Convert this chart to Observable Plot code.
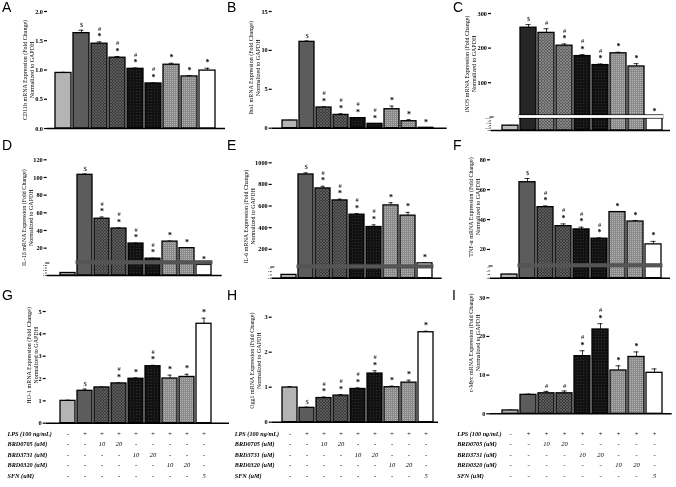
<!DOCTYPE html>
<html><head><meta charset="utf-8">
<script src="https://cdn.jsdelivr.net/npm/d3@7"></script>
<script src="https://cdn.jsdelivr.net/npm/@observablehq/plot@0.6"></script>
<style>
body{margin:0;background:#fff;}
#fig{position:relative;width:676px;height:487px;overflow:hidden;background:#fff;}
.pl{position:absolute;will-change:transform;}
.letter{position:absolute;font-family:"Liberation Sans",Arial,sans-serif;font-size:14px;line-height:14px;color:#000;}
</style></head><body>
<svg width="0" height="0" style="position:absolute">
<defs>
<pattern id="hatch" width="3" height="3" patternUnits="userSpaceOnUse"><rect width="3" height="3" fill="#3a3a3a"/><path d="M0,0L3,3M3,0L0,3" stroke="#707070" stroke-width="0.6"/></pattern>
<pattern id="hatchL" width="3" height="3" patternUnits="userSpaceOnUse"><rect width="3" height="3" fill="#5e5e5e"/><path d="M0,0L3,3M3,0L0,3" stroke="#9a9a9a" stroke-width="0.6"/></pattern>
<pattern id="dark" width="3" height="3" patternUnits="userSpaceOnUse"><rect width="3" height="3" fill="#121212"/><rect x="1" y="1" width="1" height="1" fill="#2e2e2e"/></pattern>
<pattern id="dots" width="2" height="2" patternUnits="userSpaceOnUse"><rect width="2" height="2" fill="#8a8a8a"/><rect width="1" height="1" fill="#b4b4b4"/></pattern>
</defs></svg>
<div id="fig"></div>
<script>
// ---------- categories ----------
const groups = ["Control","LPS","BRD0705-10","BRD0705-20","BRD3731-10","BRD3731-20","BRD0320-10","BRD0320-20","SFN-5"];
const fills = ["#b4b4b4","#5c5c5c","url(#hatch)","url(#hatch)","url(#dark)","url(#dark)","url(#dots)","url(#dots)","#ffffff"];
const fillsC = ["#bdbdbd","#262626","url(#hatchL)","url(#hatchL)","url(#dark)","url(#dark)","url(#dots)","url(#dots)","#ffffff"];

// ---------- A: CD11b ----------
const cd11bValues = [0.95,1.63,1.45,1.21,1.02,0.77,1.09,0.89,0.99];
const cd11bErrors = [0.01,0.05,0.03,0.02,0.015,0.01,0.025,0.015,0.04];
const cd11bSig = ["","$","*#","*#","*#","*#","*","*","*"];
const cd11bTicks = [0,0.5,1,1.5,2];
// ---------- B: Iba1 ----------
const iba1Values = [0.99,11.1,2.66,1.71,1.29,0.56,2.44,0.9,0.05];
const iba1Errors = [0.02,0.12,0.1,0.15,0.05,0.03,0.4,0.2,0.02];
const iba1Sig = ["","$","*#","*#","*#","*#","*","*","*"];
const iba1Ticks = [0,5,10,15];
// ---------- C: iNOS ----------
const inosValues = [1.0,259,244,207,177,151,185,147,4];
const inosErrors = [0.05,9,12,5,4,3,3,8,0];
const inosSig = ["","$","#","*#","*#","*#","*","*","*"];
const inosTicks = [100,200,300];
const inosLowTicks = [0,0.5,1,1.5,2,2.5];
// ---------- D: IL-1β ----------
const il1bValues = [1.0,103,53.3,42.2,25.2,8.1,27.4,20,4.2];
const il1bErrors = [0.05,1,2,0.8,0.5,0.5,0.7,0.7,0.1];
const il1bSig = ["","$","*#","*#","*#","*#","*","*","*"];
const il1bTicks = [20,40,60,80,100,120];
const il1bLowTicks = [0,1,2,3,4];
// ---------- E: IL-6 ----------
const il6Values = [1.0,892,763,652,520,406,606,511,70];
const il6Errors = [0.05,15,20,12,10,20,25,30,5];
const il6Sig = ["","$","*#","*#","*#","*#","*","*","*"];
const il6Ticks = [200,400,600,800,1000];
const il6LowTicks = [0,1,2,3];
// ---------- F: TNF-α ----------
const tnfValues = [1.0,65,48.3,35.6,33.4,27.2,45,38.7,23.4];
const tnfErrors = [0.05,2.5,0.8,1.5,1.5,0.5,0.3,0.7,2];
const tnfSig = ["","$","*#","*#","*#","*#","*","*","*"];
const tnfTicks = [20,40,60,80];
const tnfLowTicks = [0,1,2,3];
// ---------- G: HO-1 ----------
const ho1Values = [1.0,1.45,1.6,1.78,1.99,2.55,2.0,2.07,4.45];
const ho1Errors = [0.03,0.08,0.02,0.03,0.04,0.04,0.15,0.12,0.25];
const ho1Sig = ["","$","","*#","*","*#","*","*","*"];
const ho1Ticks = [0,1,2,3,4,5];
// ---------- H: Ogg1 ----------
const ogg1Values = [0.99,0.41,0.69,0.76,0.95,1.39,1.0,1.13,2.57];
const ogg1Errors = [0.03,0.02,0.03,0.03,0.03,0.08,0.03,0.07,0.03];
const ogg1Sig = ["","$","*#","*#","*#","*#","*","*","*"];
const ogg1Ticks = [0,1,2,3];
// ---------- I: c-Myc ----------
const cmycValues = [0.86,4.9,5.3,5.3,14.9,21.8,11.2,14.7,10.6];
const cmycErrors = [0.1,0.2,0.5,0.6,1.4,1.5,1.2,1.3,1.0];
const cmycSig = ["","","#","#","*#","*#","*","*",""];
const cmycTicks = [0,10,20,30];

// ---------- treatment table ----------
const rowLabels = ["LPS (100 ng/mL)","BRD0705 (uM)","BRD3731 (uM)","BRD0320 (uM)","SFN (uM)"];
const lpsRow = ["-","+","+","+","+","+","+","+","+"];
const brd0705Row = ["-","-","10","20","-","-","-","-","-"];
const brd3731Row = ["-","-","-","-","10","20","-","-","-"];
const brd0320Row = ["-","-","-","-","-","-","10","20","-"];
const sfnRow = ["-","-","-","-","-","-","-","-","5"];
const tableRows = [lpsRow,brd0705Row,brd3731Row,brd0320Row,sfnRow];
const rowAbsY = [435,445.7,456,466.7,477];

const fig = document.getElementById("fig");
const SERIF = "'Liberation Serif','Times New Roman',serif";

// piecewise (broken-axis) transform into a linear coordinate
function makeBreak(c, yMax) {
  const b = c.brk;
  const lowPx = c.base - (b.y + 1.4), gapPx = 2.8, upPx = (b.y - 1.4) - c.mt;
  return v => v <= b.lowMax ? v / b.lowMax * lowPx
    : v <= b.upMin ? lowPx + (v - b.lowMax) / (b.upMin - b.lowMax) * gapPx
    : lowPx + gapPx + (v - b.upMin) / (yMax - b.upMin) * upPx;
}

function panel(c) {
  const n = groups.length, p = 0.09;
  const step = (c.barR - c.barL) / (n - p);
  const r0 = c.barL - step * p / 2, r1 = c.barR + step * p / 2;
  const fl = c.fills || fills;
  const yMax = c.ticks[c.ticks.length - 1];
  const f = c.brk ? makeBreak(c, yMax) : (v => v);
  const data = groups.map((g, i) => ({g, v: c.values[i], e: c.errors[i], s: c.sig[i], f: fl[i]}));
  const lab = new Map();
  c.ticks.forEach(t => lab.set(f(t), c.fmt ? c.fmt(t) : String(t)));
  const marks = [
    Plot.ruleX(data, {x: "g", y1: d => f(d.v), y2: d => f(d.v + d.e), stroke: "black", strokeWidth: 0.8}),
    Plot.tickY(data.filter(d => d.e > 0), {x: "g", y: d => f(d.v + d.e), stroke: "black", strokeWidth: 0.8, insetLeft: 5.5, insetRight: 5.5}),
    Plot.barY(data, {x: "g", y1: 0, y2: d => f(d.v), fill: "f", stroke: "black", strokeWidth: 1.3})
  ];
  if (c.brk) {
    const rest = data.slice(1);
    marks.push(Plot.barY(rest, {x: "g", y1: f(c.brk.lowMax), y2: f(c.brk.upMin), fill: c.brk.edge, insetLeft: -1.3, insetRight: -1.3, insetTop: -0.7, insetBottom: -0.7}));
    marks.push(Plot.barY(rest, {x: "g", y1: f(c.brk.lowMax), y2: f(c.brk.upMin), fill: c.brk.fill, insetLeft: -1.3, insetRight: -1.3}));
  }
  marks.push(Plot.ruleY([f(0)], {stroke: "black", strokeWidth: 1.5}));
  marks.push(Plot.axisY({ticks: c.ticks.map(f), tickFormat: v => lab.get(v), tickSize: 3, tickPadding: 1.5, line: true, strokeWidth: 1.2, fontWeight: "bold", fontSize: 6.3, label: null}));
  if (c.brk) {
    const lowLab = new Map(c.lowTicks.map(t => [f(t), String(t)]));
    marks.push(Plot.axisY({ticks: c.lowTicks.map(f), tickFormat: v => lowLab.get(v), tickSize: 1.8, tickPadding: 1, strokeWidth: 0.7, fontSize: 2.6, label: null}));
    marks.push(Plot.text([c.brk], {frameAnchor: "left", y: f((c.brk.lowMax + c.brk.upMin) / 2), text: () => "=", textAnchor: "middle", fontSize: 9, fontWeight: "bold", fill: "black", stroke: "white", strokeWidth: 1.4}));
  }
  const s0 = data.filter(d => d.s.length > 0).map(d => ({g: d.g, y: f(d.v + d.e), ch: d.s[0]}));
  const s1 = data.filter(d => d.s.length > 1).map(d => ({g: d.g, y: f(d.v + d.e), ch: d.s[1]}));
  marks.push(Plot.text(s0.filter(d => d.ch === "*"), {x: "g", y: "y", text: "ch", dy: -5.5, fontSize: 8, fontWeight: "bold"}));
  marks.push(Plot.text(s0.filter(d => d.ch !== "*"), {x: "g", y: "y", text: "ch", dy: -5.5, fontSize: 6.5}));
  marks.push(Plot.text(s1, {x: "g", y: "y", text: "ch", dy: -13.5, fontSize: 6.5}));
  marks.push(Plot.text([c.label], {frameAnchor: "left", text: d => d, textAnchor: "middle", rotate: -90, dx: c.ldx, dy: c.ldy || 0, fontSize: 6, lineHeight: 1.2}));
  if (c.table) {
    tableRows.forEach((row, r) => {
      const dy = rowAbsY[r] - (c.top + c.base);
      marks.push(Plot.text(groups.map((g, i) => ({g, t: row[i]})), {x: "g", text: "t", frameAnchor: "bottom", dy, fontSize: 6.5, fontStyle: "italic"}));
      marks.push(Plot.text([rowLabels[r]], {frameAnchor: "bottom-left", text: d => d, textAnchor: "start", dx: c.tdx, dy, fontSize: 6.2, fontStyle: "italic", fontWeight: "bold"}));
    });
  }
  const svg = Plot.plot({
    width: c.width, height: c.height,
    marginLeft: c.ml, marginRight: c.width - c.lineR, marginTop: c.mt, marginBottom: c.height - c.base,
    x: {type: "band", domain: groups, range: [r0, r1], paddingInner: p, paddingOuter: p / 2, axis: null},
    y: {domain: [0, f(yMax)], range: [c.base, c.mt]},
    color: {type: "identity"},
    style: {fontFamily: SERIF, fontSize: "6.3px", background: "transparent", overflow: "visible"},
    marks
  });
  const div = document.createElement("div");
  div.className = "pl";
  div.style.left = c.left + "px"; div.style.top = c.top + "px";
  div.style.width = c.width + "px"; div.style.height = c.height + "px";
  div.appendChild(svg);
  fig.appendChild(div);
}

const GL = "\nNormalized to GAPDH";
panel({left: 0, top: 0, width: 228, height: 140, ml: 47, barL: 55, barR: 216, lineR: 225, mt: 11, base: 128,
  values: cd11bValues, errors: cd11bErrors, sig: cd11bSig, ticks: cd11bTicks, fmt: d => d.toFixed(1),
  label: "CD11b mRNA Expression (Fold Change)" + GL, ldx: -19});
panel({left: 225, top: 0, width: 228, height: 140, ml: 46.7, barL: 54.3, barR: 212, lineR: 221.7, mt: 11, base: 127.7,
  values: iba1Values, errors: iba1Errors, sig: iba1Sig, ticks: iba1Ticks,
  label: "Iba1 mRNA Expression (Fold Change)" + GL, ldx: -18, ldy: -2});
panel({left: 450, top: 0, width: 226, height: 140, ml: 41, barL: 50, barR: 215, lineR: 220, mt: 13, base: 130,
  values: inosValues, errors: inosErrors, sig: inosSig, ticks: inosTicks, lowTicks: inosLowTicks, fills: fillsC,
  brk: {lowMax: 2.5, upMin: 5, y: 116.5, fill: "#ffffff", edge: "#000000"},
  label: "iNOS mRNA Expression (Fold Change)" + GL, ldx: -21, ldy: -8});

panel({left: 0, top: 145, width: 228, height: 140, ml: 46.7, barL: 56.7, barR: 214, lineR: 221.7, mt: 14.3, base: 130,
  values: il1bValues, errors: il1bErrors, sig: il1bSig, ticks: il1bTicks, lowTicks: il1bLowTicks,
  brk: {lowMax: 4.5, upMin: 5, y: 117.3, fill: "#555555", edge: "#555555"},
  label: "IL-1β mRNA Expression (Fold Change)" + GL, ldx: -20});
panel({left: 225, top: 145, width: 228, height: 140, ml: 46.7, barL: 55, barR: 208.3, lineR: 216.7, mt: 17.3, base: 132.7,
  values: il6Values, errors: il6Errors, sig: il6Sig, ticks: il6Ticks, lowTicks: il6LowTicks,
  brk: {lowMax: 3, upMin: 50, y: 121.4, fill: "#555555", edge: "#555555"},
  label: "IL-6 mRNA Expression (Fold Change)" + GL, ldx: -23, ldy: -4});
panel({left: 450, top: 145, width: 226, height: 140, ml: 40, barL: 51, barR: 212, lineR: 220, mt: 14.3, base: 132.7,
  values: tnfValues, errors: tnfErrors, sig: tnfSig, ticks: tnfTicks, lowTicks: tnfLowTicks,
  brk: {lowMax: 3, upMin: 10, y: 120.3, fill: "#555555", edge: "#555555"},
  label: "TNF-α mRNA Expression (Fold Change)" + GL, ldx: -16, ldy: -12});

panel({left: 0, top: 290, width: 230, height: 197, ml: 45.7, barL: 56.7, barR: 215, lineR: 229, mt: 21, base: 132.7,
  values: ho1Values, errors: ho1Errors, sig: ho1Sig, ticks: ho1Ticks, table: true, tdx: -38.7,
  label: "HO-1 mRNA Expression (Fold Change)" + GL, ldx: -14, ldy: -12});
panel({left: 225, top: 290, width: 228, height: 197, ml: 46.7, barL: 56, barR: 209.3, lineR: 213, mt: 26.7, base: 131.7,
  values: ogg1Values, errors: ogg1Errors, sig: ogg1Sig, ticks: ogg1Ticks, table: true, tdx: -37.4,
  label: "Ogg1 mRNA Expression (Fold Change)" + GL, ldx: -16.7, ldy: -9});
panel({left: 450, top: 290, width: 226, height: 197, ml: 39.3, barL: 51, barR: 213.7, lineR: 221.7, mt: 7.3, base: 123.3,
  values: cmycValues, errors: cmycErrors, sig: cmycSig, ticks: cmycTicks, table: true, tdx: -32.6,
  label: "c-Myc mRNA Expression (Fold Change)" + GL, ldx: -15.6, ldy: -13});

const letters = [["A",2,0],["B",227,0],["C",453,0],["D",2,138],["E",227,138],["F",453,138],["G",2,288],["H",227,288],["I",452,288]];
letters.forEach(([t, x, yy]) => {
  const d = document.createElement("div");
  d.className = "letter"; d.textContent = t;
  d.style.left = x + "px"; d.style.top = yy + "px";
  fig.appendChild(d);
});
</script>
</body></html>
